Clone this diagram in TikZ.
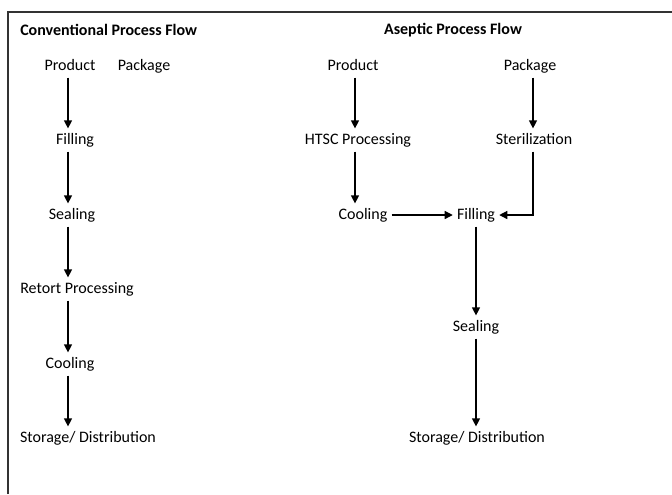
\documentclass[tikz,border=0pt]{standalone}
\usepackage{fontspec}
\setmainfont{Carlito}
\usetikzlibrary{arrows.meta}
\begin{document}
\begin{tikzpicture}[x=0.75pt,y=-0.75pt,
  lbl/.style={inner xsep=3pt,inner ysep=0pt,minimum height=17pt,
    text height=9.8pt,text depth=2.6pt,font=\fontsize{12}{14}\selectfont},
  ttl/.style={inner sep=0pt,font=\fontsize{12}{14}\selectfont\bfseries},
  flow/.style={line width=0.9pt,-{Triangle[width=6pt,length=6pt]}},
  frame/.style={line width=0.8pt,draw=black!80}]
\useasboundingbox (0,0) rectangle (672,494);
% outer frame (open at right and bottom)
\draw[frame] (8,494) -- (8,12) -- (672,12);

% titles
\node[ttl,anchor=west] (t1) at (20,30) {Conventional Process Flow};
\node[ttl] (t2) at (453,30) {Aseptic Process Flow};

% conventional column
\coordinate (ca) at (68,0);
\node[lbl] (cprod) at (70,66) {Product};
\node[lbl] (cpack) at (144,66) {Package};
\node[lbl] (cfill) at (75,140) {Filling};
\node[lbl] (cseal) at (72,215) {Sealing};
\node[lbl] (cret) at (77,289) {Retort Processing};
\node[lbl] (ccool) at (70,364) {Cooling};
\node[lbl] (cstor) at (88,438) {Storage/ Distribution};

\draw[flow] (cprod.south -| ca) -- (cfill.north -| ca);
\draw[flow] (cfill.south -| ca) -- (cseal.north -| ca);
\draw[flow] (cseal.south -| ca) -- (cret.north -| ca);
\draw[flow] (cret.south -| ca) -- (ccool.north -| ca);
\draw[flow] (ccool.south -| ca) -- (cstor.north -| ca);

% aseptic columns
\coordinate (aa) at (355,0);
\coordinate (ab) at (533,0);
\coordinate (ac) at (476,0);
\node[lbl] (aprod) at (353,66) {Product};
\node[lbl] (apack) at (530,66) {Package};
\node[lbl] (ahtsc) at (358,140) {HTSC Processing};
\node[lbl] (aster) at (534,140) {Sterilization};
\node[lbl] (acool) at (363,215) {Cooling};
\node[lbl] (afill) at (476,215) {Filling};
\node[lbl] (aseal) at (476,327) {Sealing};
\node[lbl] (astor) at (477,438) {Storage/ Distribution};

\draw[flow] (aprod.south -| aa) -- (ahtsc.north -| aa);
\draw[flow] (ahtsc.south -| aa) -- (acool.north -| aa);
\draw[flow] (apack.south -| ab) -- (aster.north -| ab);
\draw[flow] (acool.east) -- (afill.west);
\draw[flow] (aster.south -| ab) |- (afill.east);
\draw[flow] (afill.south -| ac) -- (aseal.north -| ac);
\draw[flow] (aseal.south -| ac) -- (astor.north -| ac);
\end{tikzpicture}
\end{document}
